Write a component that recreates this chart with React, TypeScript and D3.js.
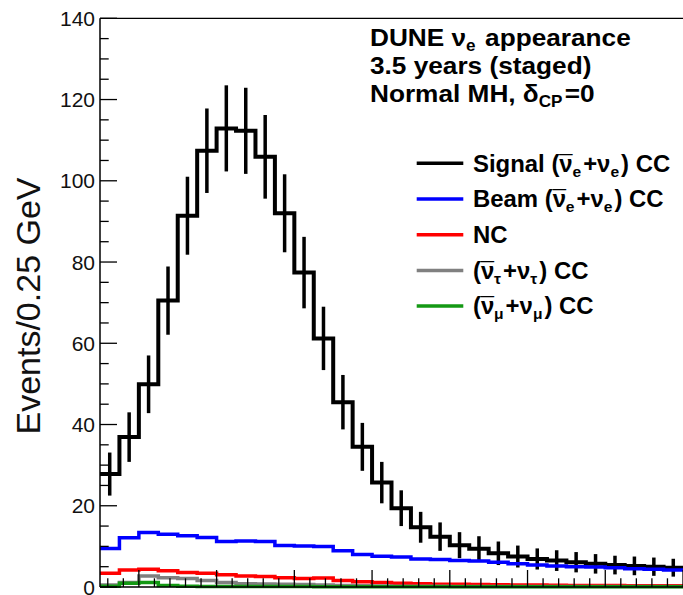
import React from "react";
import * as d3 from "d3";

// Histogram binning (GeV)
const BIN_START = 0.5;
const BIN_WIDTH = 0.25;

// Signal (nu_e-bar + nu_e) CC, events per bin
const signal = [27.8, 36.9, 49.9, 70.5, 91.4, 107.4, 112.9, 112.3, 105.9, 92.0, 77.4, 61.2, 45.5, 34.5, 25.7, 19.4, 14.7, 12.4, 10.3, 9.4, 8.3, 7.5, 6.9, 6.5, 6.1, 5.7, 5.4, 5.2, 5.0, 4.75];
// statistical errors on signal
const signalErr = [5.3, 6.1, 7.1, 8.4, 9.6, 10.4, 10.6, 10.6, 10.3, 9.6, 8.8, 7.8, 6.7, 5.9, 5.1, 4.4, 3.8, 3.5, 3.2, 3.1, 2.9, 2.7, 2.6, 2.55, 2.5, 2.4, 2.3, 2.3, 2.25, 2.2];
// Beam (nu_e-bar + nu_e) CC
const beam = [9.5, 12.1, 13.4, 13.0, 12.6, 12.2, 11.2, 11.3, 11.2, 10.2, 10.1, 10.0, 8.9, 8.0, 7.6, 7.4, 6.9, 6.8, 6.5, 6.4, 6.1, 5.7, 5.4, 5.2, 5.0, 4.9, 4.75, 4.5, 4.4, 4.2];
// NC
const nc = [3.4, 4.2, 4.4, 4.0, 3.6, 3.4, 3.0, 2.7, 2.6, 2.3, 2.1, 2.2, 1.6, 1.3, 1.1, 0.9, 0.8, 0.7, 0.65, 0.6, 0.55, 0.5, 0.5, 0.45, 0.4, 0.35, 0.35, 0.3, 0.3, 0.3];
// (nu_tau-bar + nu_tau) CC
const nutau = [0.5, 1.1, 2.7, 2.3, 2.1, 1.6, 1.1, 0.8, 0.75, 0.7, 0.6, 0.5, 0.4, 0.3, 0.25, 0.2, 0.2, 0.2, 0.15, 0.15, 0.15, 0.1, 0.1, 0.1, 0.1, 0.1, 0.1, 0.1, 0.1, 0.1];
// (nu_mu-bar + nu_mu) CC
const numu = [0.2, 0.9, 1.1, 0.4, 0.2, 0.15, 0.1, 0.1, 0.1, 0.1, 0.1, 0.05, 0.05, 0.05, 0.05, 0.05, 0.05, 0.05, 0.05, 0.05, 0.05, 0.05, 0.05, 0.05, 0.05, 0.05, 0.05, 0.05, 0.05, 0.05];

const yMajorTicks = [0, 20, 40, 60, 80, 100, 120, 140];
const yTitle = "Events/0.25 GeV";
const titleLines = ["DUNE", "3.5 years (staged)", "Normal MH,"];

const COLORS = {
  signal: "#000000",
  beam: "#0000ff",
  nc: "#ff0000",
  nutau: "#808080",
  numu: "#149914",
};

const FONT = "'Liberation Sans', Arial, Helvetica, sans-serif";

export default function App() {
  const x = d3.scaleLinear().domain([0.5, 8]).range([100, 683]);
  const y = d3.scaleLinear().domain([0, 140]).range([587, 18.3]);

  const stepPath = (vals: number[]) => {
    const pts: [number, number][] = vals.map((v, i) => [BIN_START + i * BIN_WIDTH, v]);
    pts.push([BIN_START + vals.length * BIN_WIDTH, vals[vals.length - 1]]);
    return d3
      .line<[number, number]>()
      .x((d) => x(d[0]))
      .y((d) => y(d[1]))
      .curve(d3.curveStepAfter)(pts) as string;
  };

  const yMinor = d3.range(0, 141, 5).filter((v) => v % 20 !== 0);
  const xMajor = d3.range(1, 9, 1);
  const xMinor = d3.range(0.6, 8.01, 0.2).filter((v) => Math.abs(v - Math.round(v)) > 0.01);

  const sub = (t: string, size: number, dy: number) => (
    <>
      <tspan fontSize={size} dy={dy}>{t}</tspan>
      <tspan dy={-dy}>{"\u200A"}</tspan>
    </>
  );

  const nu = "\u03BD";
  // nu with an overbar (macron character shifted back over the nu)
  const nubar = (fs: number) => (
    <>
      <tspan>{nu}</tspan>
      <tspan dx={-0.56 * fs} fontWeight="normal">{"\u00AF"}</tspan>
    </>
  );

  const LFS = 23;
  const legend = [
    { color: COLORS.signal, label: (<>Signal ({nubar(LFS)}{sub("e", 15, 5)}+{nu}{sub("e", 15, 5)}) CC</>) },
    { color: COLORS.beam, label: (<>Beam ({nubar(LFS)}{sub("e", 15, 5)}+{nu}{sub("e", 15, 5)}) CC</>) },
    { color: COLORS.nc, label: <>NC</> },
    { color: COLORS.nutau, label: (<>({nubar(LFS)}{sub("\u03C4", 15, 5)}+{nu}{sub("\u03C4", 15, 5)}) CC</>) },
    { color: COLORS.numu, label: (<>({nubar(LFS)}{sub("\u03BC", 15, 5)}+{nu}{sub("\u03BC", 15, 5)}) CC</>) },
  ];
  const legendY0 = 163.3;
  const legendDY = 35.7;

  const series = [
    { vals: beam, color: COLORS.beam, w: 3.5 },
    { vals: nc, color: COLORS.nc, w: 3.5 },
    { vals: nutau, color: COLORS.nutau, w: 3.5 },
    { vals: numu, color: COLORS.numu, w: 3.5 },
  ];

  return (
    <svg
      width={683}
      height={595}
      style={{ position: "absolute", left: 0, top: 0, background: "#fff" }}
      fontFamily={FONT}
    >
      <rect x={0} y={0} width={683} height={595} fill="#fff" />

      {/* signal histogram */}
      <path d={stepPath(signal)} fill="none" stroke={COLORS.signal} strokeWidth={4} />
      {signal.map((v, i) => {
        const cx = x(BIN_START + (i + 0.5) * BIN_WIDTH);
        return (
          <line
            key={"e" + i}
            x1={cx}
            x2={cx}
            y1={y(v - signalErr[i])}
            y2={y(v + signalErr[i])}
            stroke={COLORS.signal}
            strokeWidth={3.5}
          />
        );
      })}

      {series.map((s, i) => (
        <path key={"s" + i} d={stepPath(s.vals)} fill="none" stroke={s.color} strokeWidth={s.w} />
      ))}

      {/* frame */}
      <line x1={100} x2={683} y1={y(140)} y2={y(140)} stroke="#000" strokeWidth={1.3} />
      <line x1={100} x2={100} y1={y(140)} y2={y(0)} stroke="#000" strokeWidth={1.5} />
      <line x1={100} x2={683} y1={y(0)} y2={y(0)} stroke="#000" strokeWidth={1.5} />

      {/* y ticks */}
      {yMajorTicks.map((t) => (
        <g key={"ym" + t}>
          <line x1={100} x2={117} y1={y(t)} y2={y(t)} stroke="#000" strokeWidth={1.3} />
          <text x={95} y={y(t) + 7.5} textAnchor="end" fontSize={21} fill="#111">
            {t}
          </text>
        </g>
      ))}
      {yMinor.map((t) => (
        <line key={"yn" + t} x1={100} x2={108.7} y1={y(t)} y2={y(t)} stroke="#000" strokeWidth={1.3} />
      ))}

      {/* x ticks */}
      {xMajor.map((t) => (
        <line key={"xm" + t} x1={x(t)} x2={x(t)} y1={y(0)} y2={y(0) - 17} stroke="#000" strokeWidth={1.3} />
      ))}
      {xMinor.map((t, i) => (
        <line key={"xn" + i} x1={x(t)} x2={x(t)} y1={y(0)} y2={y(0) - 8.7} stroke="#000" strokeWidth={1.3} />
      ))}

      {/* y title */}
      <text transform="translate(40,306) rotate(-90)" textAnchor="middle" fontSize={34} fill="#111">
        {yTitle}
      </text>

      {/* title block */}
      <g transform="translate(370,0) scale(1.07,1)" fontWeight="bold" fontSize={24.5} fill="#000">
        <text x={0} y={46.5}>
          {titleLines[0]} {nu}
          {sub("e", 16, 5)} appearance
        </text>
        <text x={0} y={74.5}>{titleLines[1]}</text>
        <text x={0} y={101.7}>
          {titleLines[2]} {"\u03B4"}
          {sub("CP", 16, 5)}=0
        </text>
      </g>

      {/* legend */}
      {legend.map((l, i) => {
        const ly = legendY0 + i * legendDY;
        return (
          <g key={"l" + i}>
            <line x1={416.7} x2={463.3} y1={ly} y2={ly} stroke={l.color} strokeWidth={3.5} />
            <g transform={`translate(473,${ly + 8.3}) scale(1.04,1)`}>
              <text x={0} y={0} fontWeight="bold" fontSize={LFS} fill="#000">
                {l.label}
              </text>
            </g>
          </g>
        );
      })}
    </svg>
  );
}
